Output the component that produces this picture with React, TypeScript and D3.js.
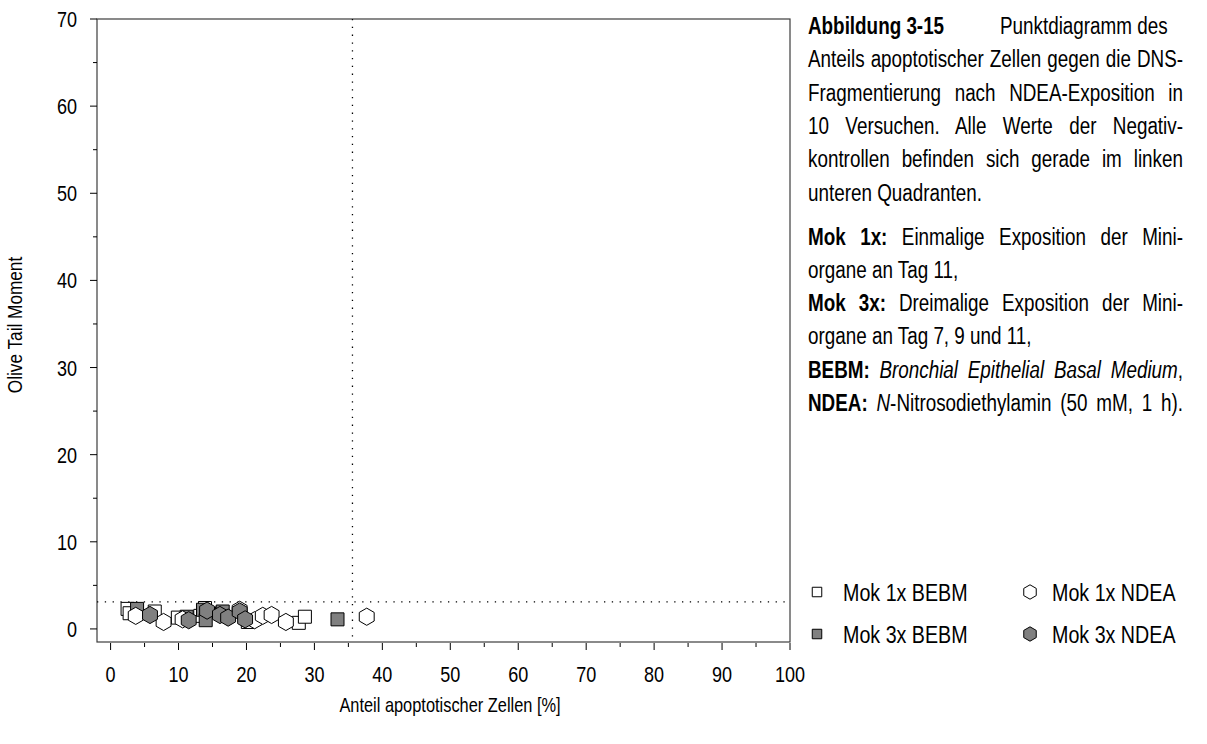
import React, { useLayoutEffect, useRef, useState } from "react";
import * as d3 from "d3";

const W = 1207;
const H = 744;

// Data
const mok1xBebmX = [2.5, 2.8, 6.5, 9.9, 13.2, 13.9, 16.4, 20.2, 27.7, 28.6];
const mok1xBebmY = [2.3, 1.8, 2.0, 1.3, 1.5, 2.4, 1.8, 0.8, 0.7, 1.4];
const mok3xBebmX = [3.9, 11.2, 13.6, 14.0, 16.5, 33.4];
const mok3xBebmY = [2.3, 1.4, 2.2, 1.0, 2.0, 1.1];
const mok1xNdeaX = [3.7, 7.8, 10.6, 19.0, 21.2, 22.4, 23.7, 25.8, 37.7];
const mok1xNdeaY = [1.5, 0.8, 1.1, 2.2, 1.0, 1.5, 1.6, 0.8, 1.4];
const mok3xNdeaX = [5.8, 11.5, 14.2, 16.1, 17.3, 19.0, 19.8];
const mok3xNdeaY = [1.6, 1.0, 2.1, 1.6, 1.3, 2.0, 1.1];

const xTickValues = [0, 10, 20, 30, 40, 50, 60, 70, 80, 90, 100];
const xMinorTicks = [5, 15, 25, 35, 45, 55, 65, 75, 85, 95];
const yTickValues = [0, 10, 20, 30, 40, 50, 60, 70];
const yMinorTicks = [5, 15, 25, 35, 45, 55, 65];

const xThreshold = 35.6;
const yThreshold = 3.1;

const legendLabels = ["Mok 1x BEBM", "Mok 1x NDEA", "Mok 3x BEBM", "Mok 3x NDEA"];

type Seg = { t: string; b?: boolean; i?: boolean };
type Line = { segs: Seg[]; justify: boolean; gapBefore?: boolean };

const captionLines: Line[] = [
  { segs: [{ t: "Anteils apoptotischer Zellen gegen die DNS-" }], justify: true },
  { segs: [{ t: "Fragmentierung nach NDEA-Exposition in" }], justify: true },
  { segs: [{ t: "10 Versuchen. Alle Werte der Negativ-" }], justify: true },
  { segs: [{ t: "kontrollen befinden sich gerade im linken" }], justify: true },
  { segs: [{ t: "unteren Quadranten." }], justify: false },
  { segs: [{ t: "Mok 1x:", b: true }, { t: " Einmalige Exposition der Mini-" }], justify: true, gapBefore: true },
  { segs: [{ t: "organe an Tag 11," }], justify: false },
  { segs: [{ t: "Mok 3x:", b: true }, { t: " Dreimalige Exposition der Mini-" }], justify: true },
  { segs: [{ t: "organe an Tag 7, 9 und 11," }], justify: false },
  {
    segs: [{ t: "BEBM:", b: true }, { t: " " }, { t: "Bronchial Epithelial Basal Medium", i: true }, { t: "," }],
    justify: true,
  },
  {
    segs: [{ t: "NDEA:", b: true }, { t: " " }, { t: "N", i: true }, { t: "-Nitrosodiethylamin (50 mM, 1 h)." }],
    justify: true,
  },
];

const FONT = "'Liberation Sans', Arial, sans-serif";
const SX = 0.82; // narrow font look

const hexagon = {
  draw(context: any, size: number) {
    const r = Math.sqrt(size);
    for (let i = 0; i < 6; i++) {
      const a = (Math.PI / 3) * i - Math.PI / 2;
      const x = r * Math.cos(a);
      const y = r * Math.sin(a);
      if (i === 0) context.moveTo(x, y);
      else context.lineTo(x, y);
    }
    context.closePath();
  },
};

function NText(props: {
  x: number;
  y: number;
  size: number;
  anchor?: string;
  rotate?: number;
  children: React.ReactNode;
  weight?: string;
}) {
  const { x, y, size, anchor, rotate, children, weight } = props;
  return (
    <text
      transform={`translate(${x},${y})${rotate ? ` rotate(${rotate})` : ""} scale(${SX},1)`}
      textAnchor={anchor || "start"}
      fontSize={size}
      fontWeight={weight}
      fill="#000"
    >
      {children}
    </text>
  );
}

export default function App() {
  const x = d3.scaleLinear().domain([-2, 100]).range([97, 790]);
  const y = d3.scaleLinear().domain([-1.5, 70]).range([642, 19]);

  const squarePath = d3.symbol().type(d3.symbolSquare).size(13 * 13)()!;
  const hexPath = d3.symbol().type(hexagon as any).size(8.6 * 8.6)()!;
  const legSquare = d3.symbol().type(d3.symbolSquare).size(9.5 * 9.5)()!;
  const legHex = d3.symbol().type(hexagon as any).size(7.2 * 7.2)()!;

  const series = [
    { xs: mok1xBebmX, ys: mok1xBebmY, path: squarePath, fill: "#ffffff" },
    { xs: mok3xBebmX, ys: mok3xBebmY, path: squarePath, fill: "#808080" },
    { xs: mok1xNdeaX, ys: mok1xNdeaY, path: hexPath, fill: "#ffffff" },
    { xs: mok3xNdeaX, ys: mok3xNdeaY, path: hexPath, fill: "#808080" },
  ];

  const captionX = 808;
  const captionRight = 1183;
  const lh = 33.3;
  const cap0 = 34;
  const capFont = 23;
  const tickFont = 22;

  const refs = useRef<(SVGTextElement | null)[]>([]);
  const [ws, setWs] = useState<number[]>(captionLines.map(() => 0));

  useLayoutEffect(() => {
    const out = captionLines.map((ln, i) => {
      const el = refs.current[i];
      if (!el || !ln.justify) return 0;
      const len = el.getComputedTextLength();
      const full = ln.segs.map((s) => s.t).join("");
      const spaces = (full.match(/ /g) || []).length;
      const target = (captionRight - captionX) / SX;
      if (spaces === 0) return 0;
      return Math.max(0, (target - len) / spaces);
    });
    setWs(out);
  }, []);

  const legendItems = [
    { label: legendLabels[0], path: legSquare, fill: "#ffffff", mx: 817, tx: 843, cy: 592 },
    { label: legendLabels[1], path: legHex, fill: "#ffffff", mx: 1030, tx: 1052, cy: 592 },
    { label: legendLabels[2], path: legSquare, fill: "#808080", mx: 817, tx: 843, cy: 634 },
    { label: legendLabels[3], path: legHex, fill: "#808080", mx: 1030, tx: 1052, cy: 634 },
  ];

  const [x0, x1] = x.range();
  const [yb, yt] = y.range();

  let yCursor = cap0;
  const lineYs = captionLines.map((ln) => {
    yCursor += ln.gapBefore ? 44 : lh;
    return yCursor;
  });

  return (
    <div style={{ position: "absolute", left: 0, top: 0 }}>
      <svg width={W} height={H} style={{ display: "block", background: "#fff" }} fontFamily={FONT}>
        {/* frame */}
        <rect x={x0} y={yt} width={x1 - x0} height={yb - yt} fill="none" stroke="#3c3c3c" strokeWidth={1.2} />

        {/* threshold dotted lines */}
        <line x1={x(xThreshold)} x2={x(xThreshold)} y1={yt} y2={yb} stroke="#000" strokeWidth={1.3} strokeDasharray="1.3 6.5" />
        <line x1={x0} x2={x1} y1={y(yThreshold)} y2={y(yThreshold)} stroke="#000" strokeWidth={1.3} strokeDasharray="1.3 6.5" />

        {/* x axis ticks */}
        {xTickValues.map((v) => (
          <g key={"xt" + v}>
            <line x1={x(v)} x2={x(v)} y1={yb + 1} y2={yb + 8} stroke="#000" strokeWidth={1} />
            <NText x={x(v)} y={682} size={tickFont} anchor="middle">
              {v}
            </NText>
          </g>
        ))}
        {xMinorTicks.map((v) => (
          <line key={"xm" + v} x1={x(v)} x2={x(v)} y1={yb + 1} y2={yb + 5} stroke="#000" strokeWidth={1} />
        ))}

        {/* y axis ticks */}
        {yTickValues.map((v) => (
          <g key={"yt" + v}>
            <line x1={x0 - 7} x2={x0} y1={y(v)} y2={y(v)} stroke="#000" strokeWidth={1} />
            <NText x={77} y={y(v) + 8} size={tickFont} anchor="end">
              {v}
            </NText>
          </g>
        ))}
        {yMinorTicks.map((v) => (
          <line key={"ym" + v} x1={x0 - 4} x2={x0} y1={y(v)} y2={y(v)} stroke="#000" strokeWidth={1} />
        ))}

        {/* axis titles */}
        <NText x={22} y={325} size={21} anchor="middle" rotate={-90}>
          Olive Tail Moment
        </NText>
        <NText x={450} y={712} size={20} anchor="middle">
          Anteil apoptotischer Zellen [%]
        </NText>

        {/* data points */}
        {series.map((s, si) =>
          s.xs.map((xv, i) => (
            <path
              key={si + "-" + i}
              d={s.path}
              transform={`translate(${x(xv)},${y(s.ys[i])})`}
              fill={s.fill}
              stroke="#000"
              strokeWidth={1}
            />
          ))
        )}

        {/* caption */}
        <NText x={captionX} y={cap0} size={capFont} weight="bold">
          Abbildung 3-15
        </NText>
        <NText x={1000} y={cap0} size={capFont}>
          Punktdiagramm des
        </NText>
        {captionLines.map((ln, i) => (
          <text
            key={"cl" + i}
            ref={(el) => {
              refs.current[i] = el;
            }}
            transform={`translate(${captionX},${lineYs[i]}) scale(${SX},1)`}
            fontSize={capFont}
            fill="#000"
            style={{ wordSpacing: `${ws[i] || 0}px`, whiteSpace: "pre" }}
          >
            {ln.segs.map((s, k) => (
              <tspan key={k} fontWeight={s.b ? "bold" : undefined} fontStyle={s.i ? "italic" : undefined}>
                {s.t}
              </tspan>
            ))}
          </text>
        ))}

        {/* legend */}
        {legendItems.map((l) => (
          <g key={l.label}>
            <path d={l.path} transform={`translate(${l.mx},${l.cy})`} fill={l.fill} stroke="#000" strokeWidth={1} />
            <NText x={l.tx} y={l.cy + 8.5} size={24}>
              {l.label}
            </NText>
          </g>
        ))}
      </svg>
    </div>
  );
}
